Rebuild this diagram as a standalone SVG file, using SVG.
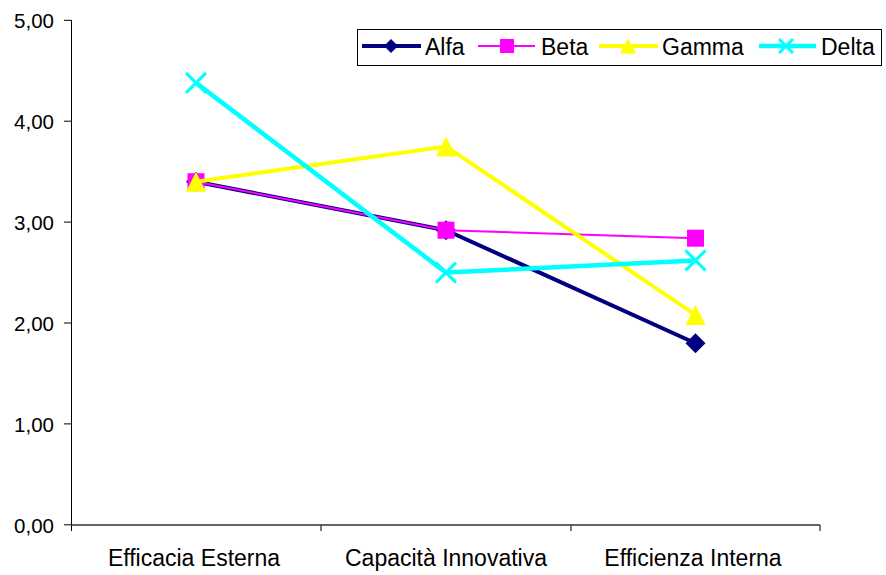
<svg xmlns="http://www.w3.org/2000/svg" width="886" height="575" viewBox="0 0 886 575">
<style>
text{font-family:"Liberation Sans",Arial,sans-serif;fill:#000}
.yl{font-size:20.5px;text-anchor:end}
.xl{font-size:23px;text-anchor:middle}
.lg{font-size:23px}
.ax{stroke:#000;stroke-width:1;fill:none}
.alfa{stroke:#000080;stroke-width:4;fill:none;stroke-linejoin:round}
.beta{stroke:#FF00FF;stroke-width:2;fill:none}
.gamma{stroke:#FFFF00;stroke-width:4;fill:none;stroke-linejoin:round}
.delta{stroke:#00FFFF;stroke-width:4.5;fill:none;stroke-linejoin:round}
.mA{fill:#000080}
.mB{fill:#FF00FF}
.mG{fill:#FFFF00}
.mD{stroke:#00FFFF;stroke-width:3;fill:none}
</style>
<defs>
<path id="dia" d="M0,-10 L10,0 L0,10 L-10,0 Z"/>
<rect id="sq" x="-8.5" y="-8.5" width="17" height="17"/>
<path id="tri" d="M0,-10 L10,10 L-10,10 Z"/>
<path id="xx" d="M-10,-10 L10,10 M-10,10 L10,-10"/>
<path id="diaS" d="M0,-7 L7,0 L0,7 L-7,0 Z"/>
<rect id="sqS" x="-7" y="-7" width="14" height="14"/>
<path id="triS" d="M0,-7.5 L8,7.5 L-8,7.5 Z"/>
<path id="xxS" d="M-7,-7 L7,7 M-7,7 L7,-7"/>
</defs>
<rect width="886" height="575" fill="#fff"/>
<g id="axes">
<path class="ax" d="M71.5,20 V531 M64,20.3 H71.5 M64,121.2 H71.5 M64,222.1 H71.5 M64,323 H71.5 M64,423.9 H71.5 M64,524.8 H71.5"/>
<path d="M71.5,525 H820 M321,525 V531 M571,525 V531 M820,525 V531" stroke="#333" stroke-width="1.3" fill="none"/>
<text class="yl" x="54" y="27.5">5,00</text>
<text class="yl" x="54" y="128.5">4,00</text>
<text class="yl" x="54" y="229.5">3,00</text>
<text class="yl" x="54" y="330.5">2,00</text>
<text class="yl" x="54" y="431.5">1,00</text>
<text class="yl" x="54" y="532.5">0,00</text>
<text class="xl" x="194" y="566">Efficacia Esterna</text>
<text class="xl" x="446" y="566">Capacità Innovativa</text>
<text class="xl" x="693" y="566">Efficienza Interna</text>
</g>
<g id="series-alfa">
<polyline class="alfa" points="196,181.7 446,230.2 695.5,343.2"/>
<use href="#dia" class="mA" x="196" y="181.7"/>
<use href="#dia" class="mA" x="446" y="230.2"/>
<use href="#dia" class="mA" x="695.5" y="343.2"/>
</g>
<g id="series-beta">
<line class="beta" x1="196" y1="181.7" x2="446" y2="230.2" stroke-width="5.5"/>
<line class="beta" x1="446" y1="230.2" x2="695.5" y2="238.2"/>
<use href="#sq" class="mB" x="196" y="181.7"/>
<use href="#sq" class="mB" x="446" y="230.2"/>
<use href="#sq" class="mB" x="695.5" y="238.2"/>
</g>
<g id="series-gamma">
<polyline class="gamma" points="196,181.7 446,146.4 695.5,314.9"/>
<use href="#tri" class="mG" x="196" y="181.7"/>
<use href="#tri" class="mG" x="446" y="146.4"/>
<use href="#tri" class="mG" x="695.5" y="314.9"/>
</g>
<g id="series-delta">
<polyline class="delta" points="196,82.9 446,272.6 695.5,260.4"/>
<use href="#xx" class="mD" x="196" y="82.9"/>
<use href="#xx" class="mD" x="446" y="272.6"/>
<use href="#xx" class="mD" x="695.5" y="260.4"/>
</g>
<g id="legend">
<rect x="357.5" y="29.5" width="524" height="36" fill="#fff" stroke="#000" stroke-width="1"/>
<line class="alfa" x1="362" y1="46" x2="421" y2="46"/>
<use href="#diaS" class="mA" x="391" y="46"/>
<text class="lg" x="425" y="55">Alfa</text>
<line class="beta" x1="478" y1="46" x2="535" y2="46"/>
<use href="#sqS" class="mB" x="507" y="46"/>
<text class="lg" x="541" y="55">Beta</text>
<line class="gamma" x1="599" y1="46" x2="658" y2="46"/>
<use href="#triS" class="mG" x="628" y="46"/>
<text class="lg" x="662" y="55">Gamma</text>
<line class="delta" x1="759" y1="46" x2="816" y2="46"/>
<use href="#xxS" class="mD" x="786" y="46"/>
<text class="lg" x="821" y="55">Delta</text>
</g>
</svg>
